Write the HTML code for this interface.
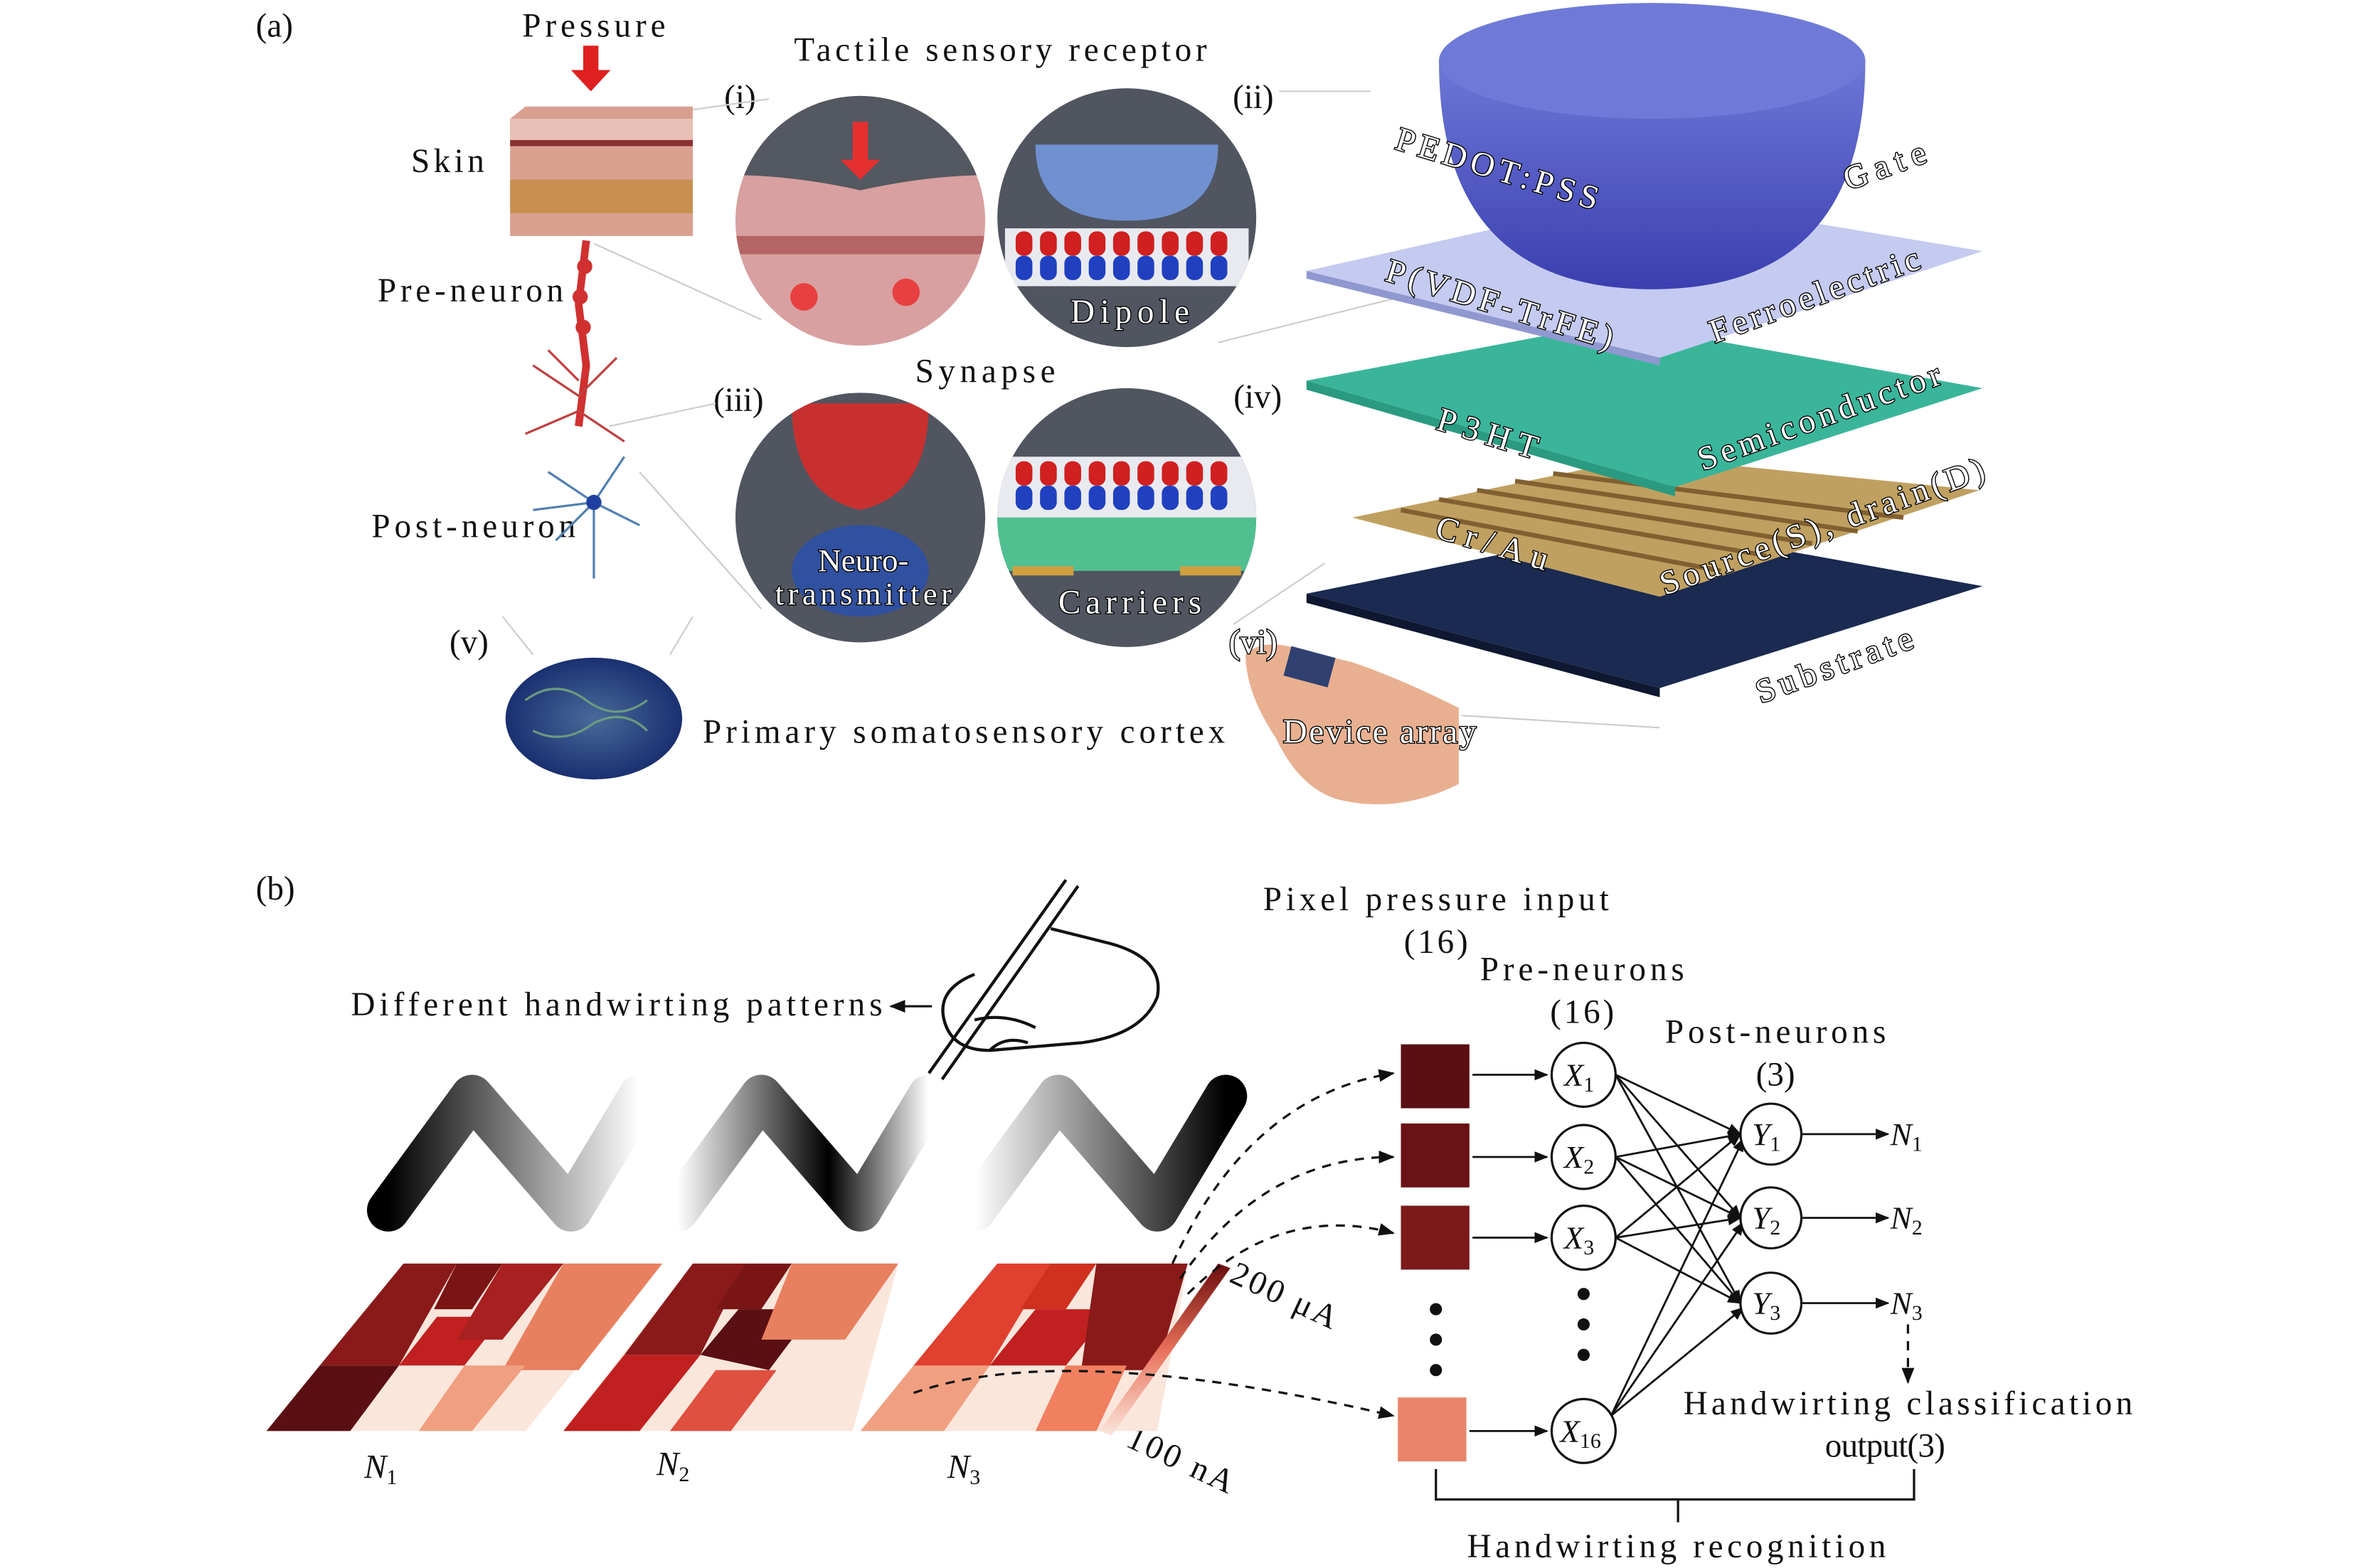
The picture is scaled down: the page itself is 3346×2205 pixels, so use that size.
<!DOCTYPE html>
<html><head><meta charset="utf-8"><style>
html,body{margin:0;padding:0;background:#fff;}
svg{display:block;}
text{font-family:"Liberation Serif",serif;fill:#111;}
.o{fill:#fff;stroke:#000;stroke-width:1.3;paint-order:stroke;}
</style></head><body>
<svg width="3346" height="2205" viewBox="0 0 1563 1030" preserveAspectRatio="none" xmlns="http://www.w3.org/2000/svg">
<defs>
<linearGradient id="dome" x1="0" y1="0" x2="0" y2="1"><stop offset="0" stop-color="#7a86e0"/><stop offset="1" stop-color="#3a3fb0"/></linearGradient>
<linearGradient id="g1" x1="0" x2="1"><stop offset="0" stop-color="#000"/><stop offset="1" stop-color="#fff"/></linearGradient>
<linearGradient id="g2" x1="0" x2="1"><stop offset="0" stop-color="#fff"/><stop offset="0.6" stop-color="#000"/><stop offset="1" stop-color="#fff"/></linearGradient>
<linearGradient id="g3" x1="0" x2="1"><stop offset="0" stop-color="#fff"/><stop offset="1" stop-color="#000"/></linearGradient>
<linearGradient id="cb" x1="0" y1="1" x2="0" y2="0"><stop offset="0" stop-color="#fbe6dc"/><stop offset="0.5" stop-color="#e8705a"/><stop offset="1" stop-color="#6a0c0c"/></linearGradient>
<radialGradient id="br"><stop offset="0" stop-color="#4a6a9a"/><stop offset="1" stop-color="#1a3070"/></radialGradient>
<marker id="ar" viewBox="0 0 10 10" refX="9" refY="5" markerWidth="7" markerHeight="7" orient="auto"><path d="M0,1 L10,5 L0,9 z" fill="#111"/></marker>
<clipPath id="c1"><circle cx="565" cy="145" r="82"/></clipPath>
<clipPath id="c2"><circle cx="740" cy="143" r="85"/></clipPath>
<clipPath id="c3"><circle cx="565" cy="340" r="82"/></clipPath>
<clipPath id="c4"><circle cx="740" cy="340" r="85"/></clipPath>
</defs>
<g font-size="22">
<text x="168" y="24">(a)</text>
<text x="390" y="24" text-anchor="middle" textLength="94" lengthAdjust="spacing">Pressure</text>
<text x="657" y="40" text-anchor="middle" textLength="271" lengthAdjust="spacing">Tactile sensory receptor</text>
<text x="294" y="113" text-anchor="middle" textLength="48" lengthAdjust="spacing">Skin</text>
<text x="309" y="198" text-anchor="middle" textLength="122" lengthAdjust="spacing">Pre-neuron</text>
<text x="311" y="353" text-anchor="middle" textLength="134" lengthAdjust="spacing">Post-neuron</text>
<text x="647" y="251" text-anchor="middle" textLength="92" lengthAdjust="spacing">Synapse</text>
<text x="486" y="71" text-anchor="middle">(i)</text>
<text x="823" y="71" text-anchor="middle">(ii)</text>
<text x="485" y="270" text-anchor="middle">(iii)</text>
<text x="826" y="268" text-anchor="middle">(iv)</text>
<text x="308" y="429" text-anchor="middle">(v)</text>
<text x="633" y="488" text-anchor="middle" textLength="343" lengthAdjust="spacing">Primary somatosensory cortex</text>
</g>
<path d="M383,30 h10 v16 h8 l-13,14 l-13,-14 h8z" fill="#e02020"/>
<path d="M335,78 L345,70 L455,70 L455,155 L335,155z" fill="#d9a090"/>
<rect x="335" y="78" width="120" height="14" fill="#e8c0b5"/>
<rect x="335" y="92" width="120" height="4" fill="#8a3030"/>
<rect x="335" y="118" width="120" height="22" fill="#c89050"/>
<path d="M385,158 L380,200 L385,240 L380,280" stroke="#d03030" stroke-width="5" fill="none"/>
<circle cx="384" cy="175" r="5" fill="#d03030"/><circle cx="381" cy="195" r="5" fill="#d03030"/><circle cx="383" cy="215" r="5" fill="#d03030"/>
<path d="M380,260 l-30,-20 M380,260 l25,-25 M380,270 l-35,15 M380,270 l30,20 M380,250 l-20,-20" stroke="#c04040" stroke-width="1.5"/>
<path d="M390,330 l-30,-20 M390,330 l20,-30 M390,330 l-25,25 M390,330 l0,50 M390,330 l30,15 M390,330 l-40,5" stroke="#5080b0" stroke-width="1.5"/>
<circle cx="390" cy="330" r="5" fill="#2040a0"/>
<g stroke="#ccc" stroke-width="1">
<line x1="455" y1="72" x2="505" y2="65"/><line x1="390" y1="160" x2="500" y2="210"/>
<line x1="900" y1="60" x2="840" y2="60"/><line x1="920" y1="195" x2="800" y2="225"/>
<line x1="400" y1="280" x2="470" y2="265"/><line x1="420" y1="310" x2="500" y2="400"/>
<line x1="330" y1="405" x2="350" y2="430"/><line x1="455" y1="405" x2="440" y2="430"/>
<line x1="870" y1="370" x2="810" y2="410"/><line x1="960" y1="470" x2="1090" y2="478"/>
</g>
<g clip-path="url(#c1)"><rect x="480" y="60" width="170" height="170" fill="#d8a0a0"/><path d="M480,60 h170 v55 q-40,0 -85,10 q-45,-10 -85,-10z" fill="#545860"/><rect x="480" y="155" width="170" height="12" fill="#b56565"/><path d="M560,80 h10 v25 h8 l-13,13 l-13,-13 h8z" fill="#e63030"/><circle cx="528" cy="195" r="9" fill="#e84040"/><circle cx="595" cy="192" r="9" fill="#e84040"/></g>
<g clip-path="url(#c2)"><rect x="650" y="55" width="180" height="180" fill="#505560"/><path d="M680,95 h120 q0,50 -60,50 q-60,0 -60,-50z" fill="#7090d0"/>
<rect x="660" y="150" width="160" height="38" fill="#e8eaf0"/>
<g fill="#d02020"><rect x="667" y="152" width="11" height="16" rx="5"/><rect x="683" y="152" width="11" height="16" rx="5"/><rect x="699" y="152" width="11" height="16" rx="5"/><rect x="715" y="152" width="11" height="16" rx="5"/><rect x="731" y="152" width="11" height="16" rx="5"/><rect x="747" y="152" width="11" height="16" rx="5"/><rect x="763" y="152" width="11" height="16" rx="5"/><rect x="779" y="152" width="11" height="16" rx="5"/><rect x="795" y="152" width="11" height="16" rx="5"/></g>
<g fill="#2040c0"><rect x="667" y="168" width="11" height="16" rx="5"/><rect x="683" y="168" width="11" height="16" rx="5"/><rect x="699" y="168" width="11" height="16" rx="5"/><rect x="715" y="168" width="11" height="16" rx="5"/><rect x="731" y="168" width="11" height="16" rx="5"/><rect x="747" y="168" width="11" height="16" rx="5"/><rect x="763" y="168" width="11" height="16" rx="5"/><rect x="779" y="168" width="11" height="16" rx="5"/><rect x="795" y="168" width="11" height="16" rx="5"/></g></g>
<text x="742" y="212" font-size="22" text-anchor="middle" class="o" textLength="78" lengthAdjust="spacing">Dipole</text>
<g clip-path="url(#c3)"><rect x="480" y="255" width="170" height="170" fill="#505560"/><path d="M520,265 h90 q0,60 -45,70 q-45,-10 -45,-70z" fill="#c83030"/><ellipse cx="565" cy="375" rx="45" ry="30" fill="#3050a0"/></g>
<text x="567" y="375" font-size="21" text-anchor="middle" class="o">Neuro-</text>
<text x="567" y="397" font-size="21" text-anchor="middle" class="o" textLength="116" lengthAdjust="spacing">transmitter</text>
<g clip-path="url(#c4)"><rect x="650" y="250" width="180" height="180" fill="#505560"/>
<rect x="650" y="300" width="180" height="40" fill="#e8eaf0"/>
<g fill="#d02020"><rect x="667" y="303" width="11" height="16" rx="5"/><rect x="683" y="303" width="11" height="16" rx="5"/><rect x="699" y="303" width="11" height="16" rx="5"/><rect x="715" y="303" width="11" height="16" rx="5"/><rect x="731" y="303" width="11" height="16" rx="5"/><rect x="747" y="303" width="11" height="16" rx="5"/><rect x="763" y="303" width="11" height="16" rx="5"/><rect x="779" y="303" width="11" height="16" rx="5"/><rect x="795" y="303" width="11" height="16" rx="5"/></g>
<g fill="#2040c0"><rect x="667" y="319" width="11" height="16" rx="5"/><rect x="683" y="319" width="11" height="16" rx="5"/><rect x="699" y="319" width="11" height="16" rx="5"/><rect x="715" y="319" width="11" height="16" rx="5"/><rect x="731" y="319" width="11" height="16" rx="5"/><rect x="747" y="319" width="11" height="16" rx="5"/><rect x="763" y="319" width="11" height="16" rx="5"/><rect x="779" y="319" width="11" height="16" rx="5"/><rect x="795" y="319" width="11" height="16" rx="5"/></g>
<rect x="650" y="340" width="180" height="35" fill="#50c090"/><rect x="665" y="372" width="40" height="6" fill="#d0a040"/><rect x="775" y="372" width="40" height="6" fill="#d0a040"/></g>
<text x="742" y="403" font-size="22" text-anchor="middle" class="o" textLength="94" lengthAdjust="spacing">Carriers</text>
<ellipse cx="390" cy="472" rx="58" ry="40" fill="url(#br)"/>
<path d="M345,460 q20,-15 40,0 q20,15 40,0 M350,480 q20,10 40,-5 q20,-10 35,5" stroke="#6a9a80" stroke-width="1.5" fill="none"/>
<path d="M818,430 q10,-10 30,-5 l40,10 q30,10 70,30 l0,50 q-40,20 -80,10 q-25,-8 -40,-40 q-20,-30 -20,-55z" fill="#e8b090"/>
<rect x="845" y="428" width="30" height="20" fill="#304070" transform="rotate(15 860 438)"/>
<polygon points="858,390 1080,345 1302,385 1090,452" fill="#1a2a50"/>
<polygon points="858,390 1090,452 1090,458 858,396" fill="#0e1830"/>
<polygon points="888,340 1080,300 1300,322 1090,392" fill="#c0a060"/>
<g stroke="#806030" stroke-width="3"><line x1="920" y1="335" x2="1130" y2="375"/><line x1="945" y1="328" x2="1160" y2="365"/><line x1="970" y1="322" x2="1190" y2="357"/><line x1="995" y1="316" x2="1220" y2="349"/><line x1="1020" y1="311" x2="1250" y2="340"/></g>
<polygon points="858,250 1060,212 1302,255 1100,320" fill="#3ab59a"/>
<polygon points="858,250 1100,320 1100,326 858,256" fill="#2a9a80"/>
<polygon points="858,178 1080,128 1302,165 1090,235" fill="#c4caf0"/>
<polygon points="858,178 1090,235 1090,240 858,183" fill="#9098d0"/>
<path d="M945,40 a140,38 0 0 1 280,0 q0,150 -140,150 q-140,0 -140,-150z" fill="url(#dome)"/>
<ellipse cx="1085" cy="40" rx="140" ry="38" fill="#6f7ad8"/>
<g font-size="22">
<text x="983" y="118" text-anchor="middle" class="o" transform="rotate(17 983 112)" textLength="138" lengthAdjust="spacing">PEDOT:PSS</text>
<text x="985" y="207" text-anchor="middle" class="o" transform="rotate(17 985 200)" textLength="155" lengthAdjust="spacing">P(VDF-TrFE)</text>
<text x="977" y="292" text-anchor="middle" class="o" transform="rotate(17 977 285)" textLength="68" lengthAdjust="spacing">P3HT</text>
<text x="980" y="364" text-anchor="middle" class="o" transform="rotate(17 980 357)" textLength="76" lengthAdjust="spacing">Cr/Au</text>
<text x="1238" y="116" text-anchor="middle" class="o" transform="rotate(-20 1238 110)" textLength="56" lengthAdjust="spacing">Gate</text>
<text x="1192" y="201" text-anchor="middle" class="o" transform="rotate(-20 1192 195)" textLength="145" lengthAdjust="spacing">Ferroelectric</text>
<text x="1195" y="281" text-anchor="middle" class="o" transform="rotate(-20 1195 275)" textLength="168" lengthAdjust="spacing">Semiconductor</text>
<text x="1197" y="353" text-anchor="middle" class="o" transform="rotate(-20 1197 347)" textLength="225" lengthAdjust="spacing">Source(S), drain(D)</text>
<text x="1205" y="444" text-anchor="middle" class="o" transform="rotate(-20 1205 438)" textLength="108" lengthAdjust="spacing">Substrate</text>
<text x="906" y="488" text-anchor="middle" class="o" textLength="127" lengthAdjust="spacing">Device array</text>
<text x="823" y="429" text-anchor="middle" class="o">(vi)</text>
</g>

<g font-size="22">
<text x="168" y="591">(b)</text>
<text x="405" y="667" text-anchor="middle" textLength="349" lengthAdjust="spacing">Different handwirting patterns</text>
<text x="943" y="598" text-anchor="middle" textLength="227" lengthAdjust="spacing">Pixel pressure input</text>
<text x="943" y="626" text-anchor="middle" textLength="42" lengthAdjust="spacing">(16)</text>
<text x="1039" y="644" text-anchor="middle" textLength="134" lengthAdjust="spacing">Pre-neurons</text>
<text x="1039" y="672" text-anchor="middle" textLength="42" lengthAdjust="spacing">(16)</text>
<text x="1166" y="685" text-anchor="middle" textLength="145" lengthAdjust="spacing">Post-neurons</text>
<text x="1166" y="713" text-anchor="middle">(3)</text>
<text x="1253" y="929" text-anchor="middle" textLength="295" lengthAdjust="spacing">Handwirting classification</text>
<text x="1238" y="957" text-anchor="middle" textLength="79" lengthAdjust="spacing">output(3)</text>
<text x="1101" y="1023" text-anchor="middle" textLength="275" lengthAdjust="spacing">Handwirting recognition</text>
<text x="843" y="858" text-anchor="middle" transform="rotate(25 843 852)" textLength="75" lengthAdjust="spacing">200 μA</text>
<text x="775" y="966" text-anchor="middle" transform="rotate(25 775 960)" textLength="75" lengthAdjust="spacing">100 nA</text>
<text x="250" y="971" text-anchor="middle" font-style="italic">N<tspan font-size="14" dy="4" font-style="normal">1</tspan></text>
<text x="442" y="969" text-anchor="middle" font-style="italic">N<tspan font-size="14" dy="4" font-style="normal">2</tspan></text>
<text x="633" y="971" text-anchor="middle" font-style="italic">N<tspan font-size="14" dy="4" font-style="normal">3</tspan></text>
</g>
<line x1="612" y1="661" x2="585" y2="661" stroke="#111" stroke-width="1.5" marker-end="url(#ar)"/>
<g fill="none" stroke="#111" stroke-width="2">
<path d="M700,578 L610,705 M708,582 L618,710"/>
<path d="M640,640 q-25,10 -20,30 q5,20 30,20 l60,-5 q40,-5 50,-30 q5,-25 -30,-35 l-40,-10"/>
<path d="M640,670 q20,-5 40,5 M650,690 q10,-10 25,-5"/>
</g>
<g stroke-width="28" fill="none" stroke-linejoin="round" stroke-linecap="round">
<path d="M255,795 L310,720 L375,795 L420,720" stroke="url(#g1)"/>
<path d="M445,795 L500,720 L565,795 L610,720" stroke="url(#g2)"/>
<path d="M640,795 L695,720 L760,795 L805,720" stroke="url(#g3)"/>
</g>
<g>
<polygon points="175,940 265,830 435,830 345,940" fill="#fbe6dc"/>
<polygon points="175,940 210,897 262,897 230,940" fill="#5a0f12"/>
<polygon points="210,897 265,830 300,830 262,897" fill="#8a1a1a"/>
<polygon points="262,897 287,865 330,865 305,897" fill="#c02020"/>
<polygon points="300,830 330,830 310,860 285,860" fill="#7a1515"/>
<polygon points="330,830 370,830 330,880 300,880" fill="#a82020"/>
<polygon points="370,830 435,830 380,900 330,900" fill="#e88060"/>
<polygon points="305,897 345,897 310,940 275,940" fill="#f0a080"/>
</g>
<g>
<polygon points="370,940 455,830 590,830 560,940" fill="#fbe6dc"/>
<polygon points="370,940 410,890 460,890 420,940" fill="#c02020"/>
<polygon points="410,890 455,830 490,830 460,890" fill="#8a1a1a"/>
<polygon points="460,890 485,860 535,860 505,900" fill="#5a0f12"/>
<polygon points="490,830 520,830 500,860 470,860" fill="#7a1515"/>
<polygon points="520,830 590,830 555,880 500,880" fill="#e88060"/>
<polygon points="470,900 510,900 480,940 440,940" fill="#e05040"/>
</g>
<g>
<polygon points="565,940 655,830 780,830 760,940" fill="#fbe6dc"/>
<polygon points="565,940 600,897 650,897 620,940" fill="#f0a080"/>
<polygon points="600,897 655,830 690,830 650,897" fill="#e04030"/>
<polygon points="650,897 680,860 730,860 700,897" fill="#c02020"/>
<polygon points="690,830 720,830 700,860 670,860" fill="#d03020"/>
<polygon points="720,830 780,830 760,900 710,900" fill="#8a1a1a"/>
<polygon points="700,897 740,897 720,940 680,940" fill="#f08060"/>
</g>
<polygon points="722,940 800,830 808,833 730,943" fill="url(#cb)"/>
<g fill="none" stroke="#111" stroke-width="1.5" stroke-dasharray="6,5">
<path d="M770,830 Q820,720 915,705" marker-end="url(#ar)"/>
<path d="M775,840 Q830,760 915,760" marker-end="url(#ar)"/>
<path d="M780,850 Q840,790 915,810" marker-end="url(#ar)"/>
<path d="M600,915 Q700,880 915,930" marker-end="url(#ar)"/>
<path d="M1253,870 L1253,908" marker-end="url(#ar)"/>
</g>
<rect x="920" y="686" width="45" height="42" fill="#5a0f12"/>
<rect x="920" y="738" width="45" height="42" fill="#6a1215"/>
<rect x="920" y="792" width="45" height="42" fill="#7a1a1a"/>
<rect x="918" y="918" width="45" height="42" fill="#e8856a"/>
<g fill="#111"><circle cx="943" cy="860" r="4"/><circle cx="943" cy="880" r="4"/><circle cx="943" cy="900" r="4"/><circle cx="1040" cy="850" r="4"/><circle cx="1040" cy="870" r="4"/><circle cx="1040" cy="890" r="4"/></g>
<g stroke="#111" stroke-width="1.3" marker-end="url(#ar)">
<line x1="967" y1="706" x2="1016" y2="706"/><line x1="967" y1="760" x2="1016" y2="760"/><line x1="967" y1="813" x2="1016" y2="813"/><line x1="965" y1="940" x2="1016" y2="940"/>
<line x1="1061" y1="706" x2="1143" y2="745"/><line x1="1061" y1="706" x2="1143" y2="800"/><line x1="1061" y1="706" x2="1143" y2="856"/>
<line x1="1061" y1="760" x2="1143" y2="745"/><line x1="1061" y1="760" x2="1143" y2="800"/><line x1="1061" y1="760" x2="1143" y2="856"/>
<line x1="1061" y1="813" x2="1143" y2="745"/><line x1="1061" y1="813" x2="1143" y2="800"/><line x1="1061" y1="813" x2="1143" y2="856"/>
<line x1="1058" y1="930" x2="1145" y2="748"/><line x1="1058" y1="930" x2="1145" y2="803"/><line x1="1058" y1="930" x2="1145" y2="859"/>
<line x1="1183" y1="745" x2="1240" y2="745"/><line x1="1183" y1="800" x2="1240" y2="800"/><line x1="1183" y1="856" x2="1240" y2="856"/>
</g>
<g fill="#fff" stroke="#111" stroke-width="1.5">
<circle cx="1040" cy="706" r="21"/><circle cx="1040" cy="760" r="21"/><circle cx="1040" cy="813" r="21"/><circle cx="1040" cy="940" r="21"/>
<circle cx="1163" cy="745" r="20"/><circle cx="1163" cy="800" r="20"/><circle cx="1163" cy="856" r="20"/>
</g>
<g font-size="21" font-style="italic" text-anchor="middle">
<text x="1037" y="713">X<tspan font-size="14" dy="4" font-style="normal">1</tspan></text>
<text x="1037" y="767">X<tspan font-size="14" dy="4" font-style="normal">2</tspan></text>
<text x="1037" y="820">X<tspan font-size="14" dy="4" font-style="normal">3</tspan></text>
<text x="1038" y="947">X<tspan font-size="14" dy="4" font-style="normal">16</tspan></text>
<text x="1160" y="752">Y<tspan font-size="14" dy="4" font-style="normal">1</tspan></text>
<text x="1160" y="807">Y<tspan font-size="14" dy="4" font-style="normal">2</tspan></text>
<text x="1160" y="863">Y<tspan font-size="14" dy="4" font-style="normal">3</tspan></text>
<text x="1252" y="752">N<tspan font-size="14" dy="4" font-style="normal">1</tspan></text>
<text x="1252" y="807">N<tspan font-size="14" dy="4" font-style="normal">2</tspan></text>
<text x="1252" y="863">N<tspan font-size="14" dy="4" font-style="normal">3</tspan></text>
</g>
<path d="M943,965 V985 H1257 V965 M1102,985 V1000" fill="none" stroke="#111" stroke-width="1.5"/>
</svg>
</body></html>
